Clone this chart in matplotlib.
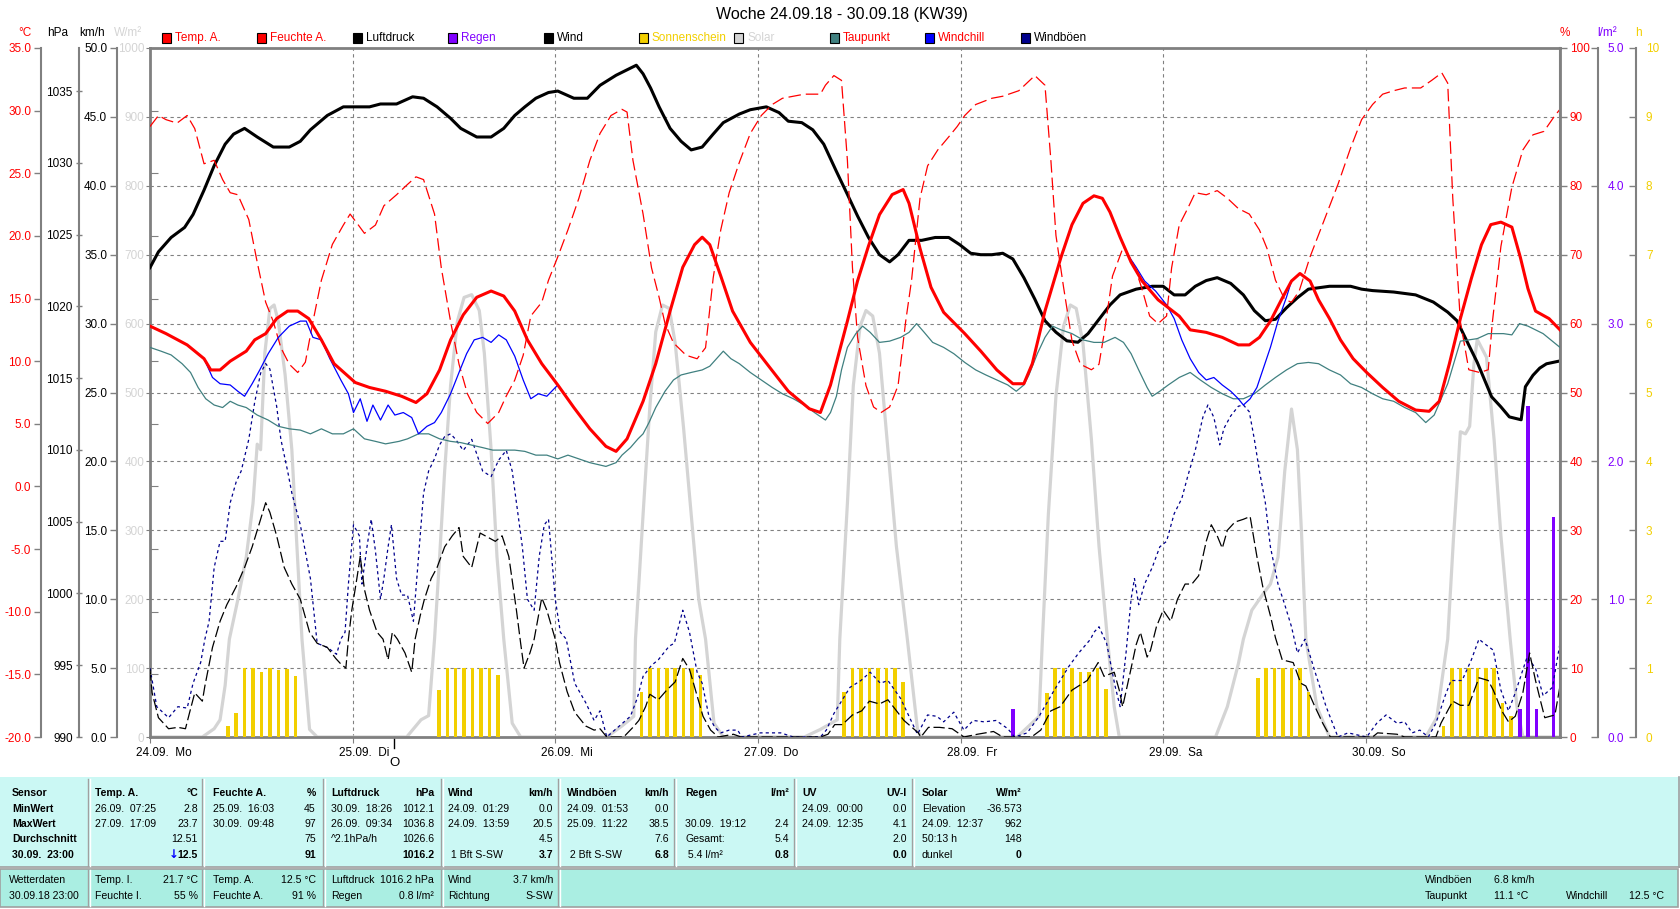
import matplotlib
matplotlib.use("Agg")
import matplotlib.pyplot as plt
from matplotlib.patches import Rectangle
from matplotlib.transforms import ScaledTranslation, blended_transform_factory
import numpy as np

plt.rcParams['font.family'] = ['Liberation Sans', 'DejaVu Sans']

# ---- data: (hour since 24.09.18 00:00, value) ----
day_labels = ['24.09.  Mo', '25.09.  Di', '26.09.  Mi', '27.09.  Do',
              '28.09.  Fr', '29.09.  Sa', '30.09.  So']
moon_hour = 28.9   # Vollmond 25.09.

temp = [(0, 12.8), (1.9, 12.2), (4.4, 11.3), (6.4, 10.2), (7.2, 9.3), (8.3, 9.3), (9.5, 10.0),
        (11.4, 10.8), (12.4, 11.7), (13.7, 12.2), (15.0, 13.4), (16.3, 14.0), (17.5, 14.0),
        (18.8, 13.4), (20.3, 11.7), (21.8, 9.8), (24.3, 8.3), (26.0, 7.9), (27.9, 7.6),
        (29.8, 7.2), (31.5, 6.7), (32.8, 7.4), (34.3, 9.3), (35.6, 11.7), (37.1, 13.7),
        (38.7, 15.1), (40.4, 15.6), (41.9, 15.2), (43.2, 14.0), (44.7, 11.7), (46.4, 9.8),
        (48.3, 8.1), (50.2, 6.3), (52.1, 4.6), (54.0, 3.2), (55.2, 2.8), (56.5, 3.8),
        (58.4, 6.8), (59.9, 9.8), (61.6, 14.0), (63.1, 17.5), (64.5, 19.3), (65.4, 19.9),
        (66.3, 19.3), (67.6, 16.8), (69.0, 14.0), (71.1, 11.5), (73.4, 9.5), (75.6, 7.6),
        (78.1, 6.2), (79.4, 5.9), (80.6, 8.1), (82.6, 13.2), (83.8, 16.4), (85.1, 19.2),
        (86.4, 21.7), (87.9, 23.3), (89.2, 23.7), (89.9, 22.6), (91.2, 19.0), (92.5, 15.9),
        (94.0, 13.9), (96.5, 12.2), (98.4, 10.8), (100.3, 9.3), (102.2, 8.2), (103.5, 8.2),
        (104.5, 9.8), (106.0, 14.0), (107.9, 18.3), (109.2, 20.9), (110.5, 22.6), (111.8, 23.2),
        (112.8, 23.0), (113.7, 21.9), (114.9, 19.9), (116.2, 17.9), (117.5, 16.4), (119.4, 14.9),
        (121.9, 13.6), (123.2, 12.5), (125.1, 12.3), (127.0, 11.9), (128.9, 11.3), (130.2, 11.3),
        (131.4, 11.9), (132.7, 13.2), (134.0, 14.9), (135.2, 16.4), (136.2, 17.0), (137.4, 16.4),
        (138.4, 14.9), (139.7, 13.4), (141.0, 11.7), (142.5, 10.2), (144.1, 9.1), (146.0, 7.9),
        (147.9, 6.8), (149.9, 6.1), (151.5, 6.0), (152.7, 6.8), (153.9, 9.8), (155.2, 13.4),
        (156.5, 16.6), (157.7, 19.3), (158.8, 20.9), (160.0, 21.1), (161.3, 20.7), (162.3, 18.3),
        (163.2, 15.8), (164.1, 14.0), (165.7, 13.4), (167, 12.5)]

humidity = [(0, 88.6), (1.0, 90.2), (1.9, 89.6), (3.2, 89.1), (4.4, 90.2), (5.3, 88.3), (6.4, 83.2),
            (7.6, 83.7), (8.6, 80.9), (9.5, 79.0), (10.4, 78.7), (11.7, 75.1), (12.7, 68.9),
            (13.7, 63.1), (14.6, 60.3), (15.5, 56.5), (16.5, 54.1), (17.5, 52.9), (18.4, 54.4),
            (19.3, 60.3), (20.3, 66.3), (21.6, 71.5), (22.9, 74.3), (23.7, 75.9), (24.5, 74.6),
            (25.4, 73.1), (26.7, 74.3), (27.7, 77.1), (29.2, 78.7), (30.5, 80.2), (31.5, 81.3),
            (32.4, 80.9), (33.7, 75.9), (34.5, 68.1), (35.6, 60.3), (36.6, 54.1), (37.6, 49.8),
            (38.7, 47.1), (40.0, 45.5), (41.3, 47.1), (42.2, 49.5), (43.2, 51.8), (44.2, 55.4),
            (45.1, 61.1), (46.4, 63.1), (47.2, 66.3), (48.3, 69.7), (49.5, 73.6), (50.8, 78.2),
            (52.1, 83.7), (53.3, 87.6), (54.6, 90.2), (55.9, 91.1), (56.5, 90.7), (57.2, 83.7),
            (58.4, 75.9), (59.4, 68.1), (60.3, 63.8), (61.0, 60.0), (62.0, 57.2), (63.5, 55.4),
            (64.8, 54.9), (65.8, 56.5), (66.7, 66.6), (67.6, 73.6), (68.6, 79.0), (69.8, 83.4),
            (71.1, 87.6), (72.4, 90.2), (73.7, 91.8), (74.9, 92.7), (77.5, 93.3), (79.4, 93.3),
            (80.0, 94.6), (81.0, 96.0), (81.9, 95.3), (82.6, 83.7), (83.2, 68.1), (83.8, 58.0),
            (84.8, 51.0), (85.7, 47.9), (86.6, 47.1), (87.6, 47.9), (88.6, 51.0), (89.5, 60.3),
            (90.2, 66.3), (91.2, 78.2), (92.1, 82.9), (93.3, 85.2), (94.6, 87.1), (95.6, 88.6),
            (96.5, 90.2), (97.8, 91.8), (99.7, 92.7), (101.0, 93.0), (102.9, 93.8), (104.8, 96.0),
            (106.0, 94.6), (106.7, 83.7), (107.3, 72.8), (108.2, 65.3), (109.2, 57.5), (110.2, 54.1),
            (111.5, 53.3), (112.4, 54.1), (113.0, 58.5), (114.0, 66.9), (115.3, 71.2), (116.6, 68.4),
            (117.5, 65.0), (118.4, 61.1), (119.4, 60.0), (120.4, 61.1), (121.0, 68.1), (121.9, 74.3),
            (122.9, 76.7), (123.8, 79.0), (125.1, 78.7), (126.4, 79.3), (127.6, 78.2), (128.9, 76.7),
            (130.2, 75.9), (131.4, 73.6), (132.3, 70.9), (133.3, 66.3), (134.4, 63.5), (135.2, 63.1),
            (136.1, 64.7), (137.4, 69.7), (139.1, 75.1), (140.7, 80.2), (142.2, 85.5), (143.5, 89.6),
            (144.8, 91.8), (146.0, 93.3), (147.3, 93.8), (148.6, 94.2), (150.5, 94.2), (151.8, 95.3),
            (153.0, 96.4), (153.7, 94.9), (154.3, 78.2), (155.2, 60.3), (156.2, 53.3), (157.5, 52.9),
            (158.5, 53.3), (159.0, 60.3), (160.0, 71.2), (161.3, 79.8), (162.6, 85.2), (163.8, 87.4),
            (165.1, 87.9), (166.4, 90.2), (167, 91.1)]

pressure = [(0, 1022.7), (1.0, 1023.8), (2.5, 1024.8), (4.1, 1025.5), (5.1, 1026.4), (6.4, 1028.1),
            (7.6, 1029.8), (8.9, 1031.3), (9.9, 1032.0), (11.2, 1032.4), (12.7, 1031.8), (14.6, 1031.1),
            (16.5, 1031.1), (17.8, 1031.5), (19.0, 1032.3), (21.0, 1033.3), (22.9, 1033.9), (26.0, 1033.9),
            (27.3, 1034.1), (29.2, 1034.1), (31.1, 1034.6), (32.4, 1034.5), (34.0, 1033.9), (35.6, 1033.1),
            (36.8, 1032.4), (38.7, 1031.8), (40.4, 1031.8), (41.9, 1032.4), (43.2, 1033.3), (44.4, 1033.9),
            (45.7, 1034.5), (47.2, 1034.9), (48.3, 1035.0), (50.2, 1034.5), (51.8, 1034.5), (53.3, 1035.4),
            (55.2, 1036.1), (57.6, 1036.8), (58.4, 1036.2), (59.3, 1035.2), (60.3, 1033.9), (61.6, 1032.4),
            (62.9, 1031.5), (64.1, 1030.9), (65.4, 1031.1), (66.7, 1032.0), (67.9, 1032.8), (69.8, 1033.4),
            (71.1, 1033.7), (73.0, 1033.9), (74.5, 1033.5), (75.6, 1032.9), (77.2, 1032.8), (78.5, 1032.3),
            (79.8, 1031.3), (81.3, 1029.4), (82.6, 1027.8), (83.8, 1026.3), (85.1, 1024.8), (86.4, 1023.6),
            (87.6, 1023.1), (88.6, 1023.6), (89.9, 1024.6), (91.4, 1024.6), (93.0, 1024.8), (94.6, 1024.8),
            (95.9, 1024.3), (97.2, 1023.7), (98.4, 1023.6), (99.7, 1023.6), (101.0, 1023.7), (102.2, 1023.3),
            (103.5, 1022.0), (104.8, 1020.5), (106.0, 1019.0), (107.3, 1018.2), (108.6, 1017.6), (109.9, 1017.5),
            (111.1, 1018.1), (112.4, 1019.1), (113.7, 1020.1), (114.9, 1020.8), (116.8, 1021.2), (118.7, 1021.4),
            (120.0, 1021.4), (121.3, 1020.8), (122.6, 1020.8), (123.8, 1021.4), (125.1, 1021.8), (126.4, 1022.0),
            (128.0, 1021.6), (129.5, 1020.8), (130.8, 1019.7), (132.1, 1019.0), (133.3, 1019.1), (134.6, 1019.9),
            (135.9, 1020.6), (137.2, 1021.2), (139.7, 1021.4), (142.2, 1021.4), (143.5, 1021.2), (144.8, 1021.1),
            (147.3, 1021.0), (149.9, 1020.8), (152.0, 1020.3), (153.7, 1019.6), (154.8, 1019.0), (156.2, 1017.3),
            (157.2, 1016.1), (158.9, 1013.7), (160.0, 1013.0), (161.0, 1012.3), (162.4, 1012.1), (162.9, 1014.4),
            (163.8, 1015.2), (164.6, 1015.7), (165.4, 1016.0), (167, 1016.2)]

wind = [(0, 4.9), (0.25, 3.2), (1.0, 1.4), (2.2, 0.6), (3.3, 0.7), (4.2, 0.6), (4.7, 1.8), (5.3, 3.2),
        (6.2, 2.6), (6.5, 3.7), (7.4, 6.5), (8.3, 8.4), (9.1, 9.6), (10.2, 10.9), (11.2, 12.3), (12.1, 13.8),
        (13.0, 15.6), (13.7, 17.0), (14.2, 16.3), (15.0, 14.6), (15.9, 12.3), (16.8, 11.1), (17.8, 10.0),
        (18.9, 7.6), (19.8, 6.8), (21.0, 6.5), (22.0, 5.7), (22.6, 5.3), (23.2, 5.0), (23.5, 7.1),
        (23.9, 9.2), (24.5, 11.5), (24.9, 13.1), (25.4, 10.7), (26.0, 9.2), (26.9, 7.6), (27.6, 7.1),
        (28.2, 5.6), (28.7, 7.6), (29.3, 7.1), (30.2, 6.1), (31.0, 4.7), (31.4, 7.1), (32.0, 8.8),
        (32.5, 10.0), (33.3, 11.5), (34.0, 12.3), (34.9, 13.8), (35.8, 14.6), (36.6, 15.2), (37.1, 13.1),
        (38.1, 12.3), (39.1, 14.8), (40.0, 14.5), (40.9, 14.2), (41.7, 14.6), (42.5, 13.1), (43.4, 9.2),
        (43.9, 6.8), (44.3, 5.0), (45.0, 6.1), (45.5, 7.1), (46.4, 10.1), (47.0, 9.2), (48.0, 7.1),
        (48.5, 5.4), (49.4, 3.3), (50.3, 1.8), (51.6, 0.8), (52.6, 0.5), (53.3, 0.6), (54.1, 0),
        (56.1, 0), (57.2, 0.7), (57.9, 1.2), (58.7, 2.2), (59.2, 3.1), (60.2, 2.7), (61.2, 3.4),
        (62.2, 4.0), (63.1, 5.7), (63.9, 4.9), (64.6, 3.4), (65.5, 1.5), (66.4, 0.5), (67.3, 0),
        (69.1, 0.2), (70.0, 0), (79.4, 0), (80.3, 0.2), (81.1, 0.9), (82.0, 0.9), (83.2, 1.6),
        (84.3, 1.9), (85.2, 2.6), (86.4, 2.4), (87.4, 2.7), (89.3, 1.2), (91.0, 0.3), (91.3, 0),
        (92.2, 0.7), (93.5, 0.7), (95.0, 0.6), (96.4, 0), (98.0, 0.2), (99.9, 0.4), (101.0, 0),
        (104.4, 0), (105.5, 0.5), (106.7, 1.9), (107.8, 2.2), (109.2, 3.4), (111.0, 4.1), (112.3, 5.4),
        (113.0, 4.4), (114.2, 4.7), (114.8, 3.4), (115.2, 2.2), (116.1, 4.7), (116.8, 6.7), (117.3, 7.6),
        (118.1, 5.8), (118.5, 6.3), (119.2, 8.0), (120.0, 9.2), (120.9, 8.4), (121.7, 10.0), (122.6, 11.1),
        (123.4, 11.1), (124.2, 11.7), (125.1, 14.2), (125.7, 15.4), (126.4, 14.6), (127.0, 13.7),
        (127.6, 15.0), (128.5, 15.6), (129.5, 15.8), (130.3, 16.0), (131.1, 13.1), (131.8, 10.9),
        (132.7, 8.8), (133.3, 7.2), (134.1, 5.6), (135.4, 5.4), (136.3, 3.9), (136.9, 3.7), (137.9, 2.3),
        (138.9, 1.0), (139.8, 0), (144.8, 0), (145.4, 0.3), (147.7, 0.2), (148.6, 0), (152.3, 0),
        (152.9, 1.0), (154.3, 2.6), (155.2, 2.3), (156.2, 2.3), (157.4, 4.3), (158.5, 4.1), (159.1, 3.4),
        (160.1, 1.9), (160.9, 1.1), (161.7, 1.5), (162.6, 3.2), (163.4, 6.1), (164.1, 4.1), (164.7, 2.6),
        (165.2, 1.4), (166.4, 1.6), (167, 3.7)]

gusts = [(0, 5.0), (0.8, 2.2), (2.2, 1.4), (3.3, 2.2), (4.4, 2.1), (5.1, 3.9), (6.0, 5.4), (6.5, 7.1),
         (7.0, 8.4), (7.6, 12.3), (8.3, 14.2), (8.9, 14.2), (9.5, 17.0), (10.2, 18.5), (10.8, 19.3),
         (11.7, 21.6), (12.4, 24.3), (13.1, 26.4), (13.7, 27.1), (14.2, 26.7), (15.0, 24.0), (15.5, 21.6),
         (16.3, 19.3), (16.8, 17.7), (17.8, 15.4), (19.0, 11.5), (19.8, 6.8), (21.0, 6.5), (22.1, 6.0),
         (22.6, 7.1), (23.1, 7.6), (23.5, 11.1), (24.1, 15.4), (24.8, 14.6), (25.1, 11.1), (25.7, 13.8),
         (26.2, 15.8), (26.7, 13.5), (27.3, 10.0), (27.7, 11.5), (28.2, 13.8), (28.6, 15.4), (29.2, 11.5),
         (29.8, 10.3), (30.5, 10.3), (31.2, 8.4), (31.8, 13.1), (32.4, 17.7), (33.0, 19.3), (33.7, 20.2),
         (34.3, 21.2), (34.9, 21.8), (35.6, 22.0), (36.2, 21.6), (37.1, 20.8), (38.1, 21.6), (39.4, 19.3),
         (40.4, 18.9), (41.3, 20.1), (42.2, 20.8), (42.9, 19.3), (43.4, 17.0), (44.1, 13.8), (44.7, 10.0),
         (45.5, 9.2), (46.1, 13.1), (46.7, 15.4), (47.2, 15.8), (48.0, 10.0), (48.6, 7.6), (49.3, 7.1),
         (50.3, 3.9), (51.6, 2.5), (52.6, 1.2), (53.3, 1.9), (54.1, 0), (55.4, 0.7), (56.9, 1.5),
         (57.7, 2.8), (58.4, 4.4), (59.4, 5.2), (60.2, 5.6), (61.5, 6.6), (62.1, 6.8), (63.1, 9.2),
         (63.9, 7.6), (64.8, 4.7), (65.4, 3.9), (66.2, 1.5), (66.9, 0.7), (67.6, 0.3), (68.6, 0.5),
         (69.6, 0.5), (70.1, 0), (72.3, 0.3), (74.7, 0.3), (76.2, 0), (79.4, 0), (80.1, 0.5), (81.0, 1.7),
         (81.8, 2.5), (82.9, 3.6), (84.2, 4.1), (85.3, 4.7), (86.5, 3.9), (87.4, 4.1), (88.9, 2.8),
         (89.9, 1.5), (90.9, 0.2), (92.1, 1.6), (93.2, 1.5), (94.0, 1.1), (95.2, 1.8), (96.4, 0.5),
         (97.5, 1.2), (98.8, 1.1), (100.2, 1.2), (101.6, 0.6), (102.4, 0), (103.9, 0.3), (105.3, 1.5),
         (107.1, 3.4), (108.8, 5.1), (110.0, 6.1), (111.4, 7.1), (111.8, 7.6), (112.4, 8.0), (113.3, 6.8),
         (114.3, 3.7), (114.9, 2.2), (115.6, 6.1), (116.2, 10.0), (116.6, 11.5), (117.1, 9.6), (117.8, 11.1),
         (118.7, 12.3), (119.6, 13.8), (120.4, 14.2), (121.3, 16.2), (122.2, 17.3), (122.9, 18.9),
         (123.8, 20.8), (124.7, 23.2), (125.3, 24.1), (126.0, 23.2), (126.7, 21.2), (127.2, 22.4),
         (128.0, 23.3), (128.9, 24.0), (129.5, 24.1), (130.2, 23.6), (130.8, 21.6), (131.4, 19.3),
         (132.1, 17.0), (132.7, 13.8), (133.6, 11.1), (134.4, 9.6), (135.2, 8.0), (135.9, 6.1), (136.8, 7.1),
         (138.0, 4.7), (139.3, 2.2), (140.7, 0), (141.9, 0.3), (144.1, 0), (145.3, 1.0), (146.4, 1.6),
         (147.7, 1.0), (148.6, 1.1), (149.5, 0.3), (150.4, 0.5), (151.4, 0), (152.3, 1.0), (153.4, 3.0),
         (154.1, 4.1), (155.4, 4.1), (156.5, 5.6), (157.4, 7.1), (158.0, 6.8), (159.1, 6.3), (160.0, 3.4),
         (160.9, 1.9), (161.7, 3.2), (163.1, 5.8), (164.1, 5.0), (165.0, 3.0), (166.1, 3.6), (167, 6.8)]

solar = [(0, 0), (6.2, 0), (7.6, 12), (8.3, 25), (8.9, 75), (9.4, 142), (10.4, 199), (11.4, 261),
         (12.2, 339), (12.7, 425), (13.1, 417), (13.6, 557), (14.2, 622), (14.7, 627), (15.2, 603),
         (16.0, 526), (16.8, 417), (17.4, 277), (18.0, 142), (18.9, 11), (19.8, 0),
         (30.4, 0), (32.1, 25), (33.0, 31), (33.7, 142), (34.3, 261), (34.9, 386), (35.6, 510),
         (36.4, 603), (37.2, 638), (38.1, 642), (39.0, 619), (39.6, 557), (40.4, 417), (41.1, 261),
         (41.9, 142), (42.9, 20), (43.9, 0),
         (54.1, 0), (55.9, 16), (57.3, 30), (57.5, 142), (58.4, 323), (59.2, 479), (59.9, 588),
         (60.7, 627), (61.5, 622), (62.2, 572), (63.2, 448), (64.1, 323), (65.0, 199), (65.8, 142),
         (66.8, 20), (67.9, 0),
         (77.5, 0), (79.4, 11), (81.4, 25), (81.7, 142), (82.6, 339), (83.3, 510), (84.1, 596),
         (84.8, 619), (85.6, 611), (86.4, 557), (87.4, 417), (88.4, 277), (89.7, 142), (90.9, 11),
         (91.3, 0),
         (102.7, 0), (104.1, 16), (105.3, 30), (105.7, 142), (106.4, 323), (107.3, 495), (108.2, 596),
         (109.0, 627), (109.7, 622), (110.5, 572), (111.5, 432), (112.4, 277), (113.4, 142), (114.2, 44),
         (114.8, 0),
         (126.2, 0), (127.6, 44), (128.9, 106), (129.5, 142), (130.5, 184), (131.8, 207), (132.7, 222),
         (133.6, 261), (134.4, 386), (135.2, 476), (135.9, 417), (136.4, 292), (136.9, 142), (138.2, 44),
         (139.7, 0),
         (151.1, 0), (152.4, 28), (153.7, 142), (154.4, 292), (155.2, 443), (155.8, 440), (156.3, 451),
         (156.8, 541), (157.2, 577), (158.3, 551), (159.2, 431), (160.0, 292), (161.1, 142), (161.9, 44),
         (162.6, 0), (167, 0)]

dewpoint = [(0, 11.1), (1.3, 10.8), (2.5, 10.5), (3.8, 9.8), (4.8, 9.1), (5.7, 7.9), (6.6, 7.0),
            (7.6, 6.5), (8.6, 6.3), (9.5, 6.8), (10.4, 6.5), (11.4, 6.3), (12.7, 5.7), (14.0, 5.3),
            (15.2, 4.8), (16.5, 4.6), (17.8, 4.5), (19.0, 4.2), (20.3, 4.6), (21.6, 4.2), (22.9, 4.2),
            (24.1, 4.6), (25.4, 3.8), (26.7, 3.6), (27.9, 3.4), (29.5, 3.6), (30.5, 3.8), (31.8, 4.2),
            (33.0, 4.2), (34.3, 3.8), (35.6, 3.6), (36.8, 3.5), (38.1, 3.3), (39.4, 3.1), (40.6, 2.9),
            (43.2, 2.9), (44.4, 2.8), (45.7, 2.5), (47.0, 2.5), (48.3, 2.2), (49.5, 2.5), (50.8, 2.2),
            (52.1, 1.9), (54.0, 1.6), (55.2, 1.9), (55.9, 2.5), (56.9, 3.1), (57.8, 3.8), (58.4, 4.2),
            (59.1, 5.1), (59.9, 6.3), (61.0, 7.6), (62.0, 8.5), (62.9, 8.9), (64.1, 9.1), (65.4, 9.3),
            (66.3, 9.6), (67.1, 10.2), (67.9, 10.8), (68.8, 10.2), (69.8, 9.8), (71.1, 9.1), (72.4, 8.5),
            (73.7, 7.9), (74.9, 7.4), (76.2, 7.0), (77.5, 6.5), (78.7, 5.9), (80.0, 5.3), (80.6, 5.9),
            (81.3, 7.2), (81.9, 9.3), (82.6, 11.1), (83.6, 12.2), (84.4, 12.8), (85.3, 12.3), (86.4, 11.5),
            (87.6, 11.6), (88.9, 11.9), (89.9, 12.3), (90.8, 13.0), (91.7, 12.3), (92.7, 11.5), (94.0, 11.1),
            (95.2, 10.6), (96.5, 9.9), (97.8, 9.3), (99.0, 8.9), (100.3, 8.5), (101.6, 8.1), (102.6, 7.6),
            (103.5, 8.1), (104.1, 8.9), (105.1, 10.6), (106.0, 11.9), (106.9, 12.8), (107.9, 12.5),
            (109.2, 12.2), (110.5, 11.7), (111.8, 11.5), (113.0, 11.5), (114.3, 11.9), (115.3, 11.5),
            (116.2, 10.6), (117.1, 9.3), (118.1, 7.9), (118.7, 7.2), (119.6, 7.6), (120.6, 8.1),
            (121.9, 8.7), (123.2, 9.1), (124.4, 8.5), (125.7, 7.9), (127.0, 7.4), (128.3, 7.0),
            (129.5, 7.0), (130.8, 7.4), (132.1, 8.1), (133.3, 8.7), (134.6, 9.3), (135.9, 9.8),
            (137.2, 9.9), (138.4, 9.8), (139.7, 9.3), (141.0, 8.9), (142.2, 8.2), (143.5, 7.9),
            (144.8, 7.4), (146.0, 7.0), (147.3, 6.8), (148.6, 6.3), (149.9, 5.9), (151.1, 5.1),
            (152.1, 5.7), (153.7, 8.2), (155.2, 11.6), (157.2, 11.8), (158.5, 12.2), (160.3, 12.2),
            (161.3, 12.1), (162.2, 13.0), (163.2, 12.8), (165.0, 12.2), (167, 11.1)]

# windchill, only where it differs from the temperature
windchill_1 = [(6.4, 10.2), (7.4, 8.7), (8.3, 8.2), (9.5, 8.1), (10.4, 7.6), (11.2, 7.2), (12.1, 8.2),
               (13.0, 9.3), (14.0, 10.6), (15.2, 11.9), (16.5, 12.8), (17.8, 13.2), (18.5, 13.2),
               (19.3, 11.9), (20.3, 11.7)]
windchill_2 = [(20.3, 11.7), (21.3, 10.2), (22.6, 8.5), (23.5, 7.4), (24.1, 5.9), (24.9, 7.0), (25.7, 5.2),
               (26.4, 6.5), (27.3, 5.3), (28.2, 6.5), (29.0, 5.7), (30.0, 5.9), (31.0, 5.5), (31.8, 4.2),
               (32.8, 4.8), (33.7, 5.1), (34.5, 5.9), (35.6, 7.4), (36.6, 9.1), (37.5, 10.6), (38.4, 11.7),
               (39.4, 11.9), (40.4, 11.5), (41.3, 12.1), (42.2, 11.7), (43.2, 10.4), (44.2, 8.5),
               (45.1, 7.0), (46.0, 7.4), (47.0, 7.2), (48.3, 8.1)]
windchill_3 = [(114.9, 19.9), (115.8, 18.5), (116.8, 17.5), (117.8, 16.4), (119.1, 15.6), (120.4, 14.5),
               (121.3, 13.4), (122.2, 11.7), (123.2, 10.2), (124.2, 9.1), (125.1, 8.5), (126.0, 8.7),
               (127.0, 8.1), (128.0, 7.6), (128.9, 7.0), (129.5, 6.5), (130.3, 7.0), (131.1, 7.9),
               (131.8, 9.3), (132.7, 11.1), (133.6, 13.2), (134.6, 15.1), (135.2, 16.4)]

sun_hours = [9, 10, 11, 12, 13, 14, 15, 16, 17,
             34, 35, 36, 37, 38, 39, 40, 41,
             58, 59, 60, 61, 62, 63, 64, 65,
             82, 83, 84, 85, 86, 87, 88, 89,
             106, 107, 108, 109, 110, 111, 112, 113,
             131, 132, 133, 134, 135, 136, 137,
             153, 154, 155, 156, 157, 158, 159, 160, 161]
sun_values = [0.16, 0.35, 1.0, 1.0, 0.94, 1.0, 0.97, 0.99, 0.88,
              0.68, 1.0, 1.0, 1.0, 1.0, 1.0, 1.0, 0.9,
              0.66, 1.0, 1.0, 1.0, 1.0, 1.0, 1.0, 0.9,
              0.66, 1.0, 1.0, 1.0, 1.0, 1.0, 1.0, 0.8,
              0.64, 1.0, 1.0, 1.0, 0.94, 0.94, 1.0, 0.7,
              0.85, 1.0, 1.0, 1.0, 1.0, 1.0, 0.65,
              0.16, 1.0, 1.0, 1.0, 1.0, 1.0, 1.0, 0.5, 0.3]

rain_hours = [102, 162, 163, 164, 166, 167]
rain_values = [0.2, 0.2, 2.4, 0.2, 1.6, 0.8]

legend_items = [('Temp. A.', 'temp', 'temp'), ('Feuchte A.', 'temp', 'temp'),
                ('Luftdruck', 'black', 'black'), ('Regen', 'rain', 'rain'), ('Wind', 'black', 'black'),
                ('Sonnenschein', 'sun', 'sun'), ('Solar', 'solar', 'solar'), ('Taupunkt', 'dew', 'temp'),
                ('Windchill', 'chill', 'temp'), ('Windböen', 'gust', 'black')]

# table text: (header left, header right, rows of (left, right))
table_cols = [
    ('Sensor', '', [('MinWert', ''), ('MaxWert', ''), ('Durchschnitt', ''), ('30.09.  23:00', '')]),
    ('Temp. A.', '°C', [('26.09.  07:25', '2.8'), ('27.09.  17:09', '23.7'), ('', '12.51'), ('', '12.5')]),
    ('Feuchte A.', '%', [('25.09.  16:03', '45'), ('30.09.  09:48', '97'), ('', '75'), ('', '91')]),
    ('Luftdruck', 'hPa', [('30.09.  18:26', '1012.1'), ('26.09.  09:34', '1036.8'),
                          ('^2.1hPa/h', '1026.6'), ('', '1016.2')]),
    ('Wind', 'km/h', [('24.09.  01:29', '0.0'), ('24.09.  13:59', '20.5'), ('', '4.5'),
                      (' 1 Bft S-SW', '3.7')]),
    ('Windböen', 'km/h', [('24.09.  01:53', '0.0'), ('25.09.  11:22', '38.5'), ('', '7.6'),
                          (' 2 Bft S-SW', '6.8')]),
    ('Regen', 'l/m²', [('', ''), ('30.09.  19:12', '2.4'), ('Gesamt:', '5.4'), (' 5.4 l/m²', '0.8')]),
    ('UV', 'UV-I', [('24.09.  00:00', '0.0'), ('24.09.  12:35', '4.1'), ('', '2.0'), ('', '0.0')]),
    ('Solar', 'W/m²', [('Elevation', '-36.573'), ('24.09.  12:37', '962'), ('50:13 h', '148'),
                       ('dunkel', '0')]),
]
current_cols = [
    [('Wetterdaten', ''), ('30.09.18 23:00', '')],
    [('Temp. I.', '21.7 °C'), ('Feuchte I.', '55 %')],
    [('Temp. A.', '12.5 °C'), ('Feuchte A.', '91 %')],
    [('Luftdruck', '1016.2 hPa'), ('Regen', '0.8 l/m²')],
    [('Wind', '3.7 km/h'), ('Richtung', 'S-SW')],
]
current_extra = [('Windböen', '6.8 km/h', 0), ('Taupunkt', '11.1 °C', 1), ('Windchill', '12.5 °C', 1)]

# ---- styling ----
C = {'temp': '#ff0000', 'rain': '#8000ff', 'sun': '#f2cf00', 'solar': '#d4d4d4', 'dew': '#408080',
     'chill': '#0000ff', 'gust': '#00008c', 'black': '#000000'}
GRAY = '#808080'
FS = 8.5
TFS = 7.6

W, H = 1680, 909
fig = plt.figure(figsize=(W / 100, H / 100), dpi=100)


def fx(x):
    return x / W


def fy(y):
    return 1 - y / H


L, R, T, B = 150, 1560, 48, 737
ax = fig.add_axes([fx(L), fy(B), (R - L) / W, (B - T) / H])
ax.set_xlim(0, 167)
ax.set_ylim(0, 1000)
ax.set_yticks(range(0, 1001, 100))
ax.tick_params(axis='y', colors=GRAY, labelcolor=C['solar'], length=3, labelsize=FS, pad=1)
ax.set_xticks(range(0, 168, 24))
ax.set_xticklabels(day_labels)
ax.tick_params(axis='x', colors=GRAY, labelcolor='black', length=4, labelsize=FS, pad=3)
shift = ScaledTranslation(-0.14, 0, fig.dpi_scale_trans)
for lab in ax.get_xticklabels():
    lab.set_ha('left')
    lab.set_transform(lab.get_transform() + shift)
ax.grid(True, color=GRAY, linestyle=(0, (3, 3)), linewidth=0.8)
for s in ax.spines.values():
    s.set_color(GRAY)
    s.set_linewidth(2)


def side_axis(pos, side, lim, ticks, fmt, color, direction='out', pad=2):
    a = ax.twinx()
    a.set_ylim(*lim)
    for s in a.spines.values():
        s.set_visible(False)
    sp = a.spines[side]
    sp.set_visible(True)
    sp.set_position(('axes', pos))
    sp.set_color(GRAY)
    sp.set_linewidth(1.5)
    a.yaxis.set_ticks_position(side)
    a.yaxis.set_label_position(side)
    a.set_yticks(ticks)
    a.set_yticklabels([fmt.format(t) for t in ticks])
    a.tick_params(axis='y', colors=GRAY, labelcolor=color, direction=direction,
                  length=5, width=1, labelsize=FS, pad=pad)
    return a


ax_h = side_axis(1.054, 'right', (0, 10), range(0, 11), '{}', C['sun'], 'in', 7)
ax_rain = side_axis(1.027, 'right', (0, 5), np.arange(0, 5.1, 1.0), '{:.1f}', C['rain'], 'in', 7)
ax_kmh = side_axis(-0.0234, 'left', (0, 50), np.arange(0, 50.1, 5), '{:.1f}', 'black')
ax_hpa = side_axis(-0.0504, 'left', (990, 1038), range(990, 1036, 5), '{}', 'black', 'inout')
ax_pct = side_axis(1.0, 'right', (0, 100), range(0, 101, 10), '{}', C['temp'], 'out', 2)
ax_c = side_axis(-0.0773, 'left', (-20, 35), np.arange(-20, 35.1, 5), '{:.1f}', C['temp'])

# small °C marks on the inside of the frame
ax_cin = ax.twinx()
ax_cin.set_ylim(-20, 35)
for s in ax_cin.spines.values():
    s.set_visible(False)
ax_cin.yaxis.set_ticks_position('left')
ax_cin.set_yticks(np.arange(-20, 35.1, 5))
ax_cin.tick_params(axis='y', direction='in', length=6, colors=GRAY, labelleft=False)


def tv(pairs):
    t, v = zip(*pairs)
    return np.array(t), np.array(v)


ax.plot(*tv(solar), color=C['solar'], lw=2.3)
ax_h.bar(sun_hours, sun_values, width=0.42, align='edge', color=C['sun'], edgecolor='none')
ax_rain.bar(rain_hours, rain_values, width=0.45, align='edge', color=C['rain'], edgecolor='none')
ax_kmh.plot(*tv(gusts), color=C['gust'], lw=0.9, linestyle=(0, (2.5, 2.5)))
ax_kmh.plot(*tv(wind), color='black', lw=0.9, linestyle=(0, (9, 3)))
ax_hpa.plot(*tv(pressure), color='black', lw=2.2)
ax_pct.plot(*tv(humidity), color=C['temp'], lw=0.9, linestyle=(0, (10, 4)))
ax_c.plot(*tv(dewpoint), color=C['dew'], lw=0.9)
for seg in (windchill_1, windchill_2, windchill_3):
    ax_c.plot(*tv(seg), color=C['chill'], lw=0.9)
ax_c.plot(*tv(temp), color=C['temp'], lw=2.2)

# full moon marker below the time axis
btr = blended_transform_factory(ax.transData, ax.transAxes)
ax.plot([moon_hour, moon_hour], [0, -0.016], transform=btr, color='black', lw=1, clip_on=False)
ax.text(moon_hour, -0.038, 'O', transform=btr, ha='center', va='center', fontsize=9.5, clip_on=False)

# ---- title, unit labels, legend ----
fig.text(fx(842), fy(14), 'Woche 24.09.18 - 30.09.18 (KW39)', ha='center', va='center', fontsize=11.5)
units = [(25, '°C', C['temp']), (58, 'hPa', 'black'), (92, 'km/h', 'black'), (128, 'W/m²', C['solar']),
         (1565, '%', C['temp']), (1607, 'l/m²', C['rain']), (1638, 'h', C['sun'])]
for x, u, col in units:
    fig.text(fx(x), fy(33), u, ha='center', va='center', fontsize=FS, color=col)

for i, (name, sq, tc) in enumerate(legend_items):
    x0 = 162 + i * 95.4
    fig.patches.append(Rectangle((fx(x0), fy(42.5)), 9 / W, 9 / H, transform=fig.transFigure,
                                 facecolor=C[sq], edgecolor='black', lw=0.8))
    fig.text(fx(x0 + 13), fy(38), name, ha='left', va='center', fontsize=FS, color=C[tc])

# ---- data table at the bottom ----
tab = fig.add_axes([0, 0, 1, 1])
tab.set_xlim(0, W)
tab.set_ylim(H, 0)
tab.axis('off')
tab.add_patch(Rectangle((0, 777), W, 90, facecolor='#cbf8f4', edgecolor='none'))
tab.add_patch(Rectangle((0, 869), W - 2, 38, facecolor='#aaeee2', edgecolor='#a0a0a0', lw=1.2))
tab.plot([0, W], [867, 867], color='#a0a0a0', lw=1.2)
tab.plot([W - 1, W - 1], [777, 867], color='#a0a0a0', lw=1.2)

col_x = [(12, None), (95, 198), (213, 316), (331, 434), (448, 553), (567, 669), (685, 789),
         (802, 907), (922, 1022)]
col_div = [88, 202, 323, 441, 558, 674, 794, 912]
for xd in col_div:
    tab.plot([xd, xd], [779, 866], color='#a0a0a0', lw=1.0)
    tab.plot([xd + 1.5, xd + 1.5], [779, 866], color='white', lw=1.0)
for xd in col_div[:5]:
    tab.plot([xd, xd], [870, 906], color='#a0a0a0', lw=1.0)
    tab.plot([xd + 1.5, xd + 1.5], [870, 906], color='white', lw=1.0)

row_y = [793, 808.5, 824, 839.5, 855]
for (xl, xr), (hl, hr, rows) in zip(col_x, table_cols):
    tab.text(xl, row_y[0], hl, ha='left', va='center', fontsize=TFS, weight='bold')
    if xr:
        tab.text(xr, row_y[0], hr, ha='right', va='center', fontsize=TFS, weight='bold')
    for k, (tl, tr) in enumerate(rows):
        last = k == len(rows) - 1
        tab.text(xl, row_y[k + 1], tl, ha='left', va='center', fontsize=TFS,
                 weight='bold' if xr is None else 'normal')
        if xr and tr:
            tab.text(xr, row_y[k + 1], tr, ha='right', va='center', fontsize=TFS,
                     weight='bold' if last else 'normal')
# falling-trend arrow next to the current temperature
tab.text(179, row_y[4], '↓', ha='right', va='center', fontsize=8.5, color='#0000ff', weight='bold',
         family=['DejaVu Sans'])

row2_y = [880, 896]
col2_x = [(9, None), (95, 198), (213, 316), (331, 434), (448, 553)]
for (xl, xr), rows in zip(col2_x, current_cols):
    for k, (tl, tr) in enumerate(rows):
        tab.text(xl, row2_y[k], tl, ha='left', va='center', fontsize=TFS)
        if xr:
            tab.text(xr, row2_y[k], tr, ha='right', va='center', fontsize=TFS)
extra_x = [(1425, 1494), (1425, 1494), (1566, 1629)]
for (xl, xv), (lbl, val, r) in zip(extra_x, current_extra):
    tab.text(xl, row2_y[r], lbl, ha='left', va='center', fontsize=TFS)
    tab.text(xv, row2_y[r], val, ha='left', va='center', fontsize=TFS)

fig.savefig('out.png', dpi=100)
